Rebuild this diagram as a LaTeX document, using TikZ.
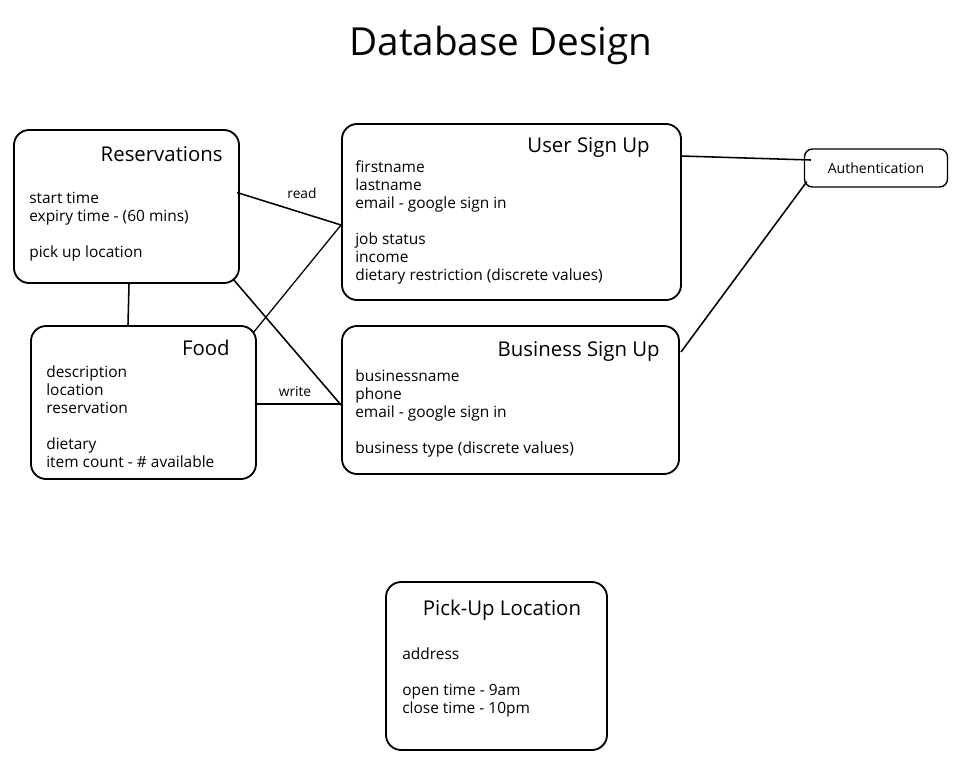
\documentclass[tikz,border=0pt]{standalone}
\usepackage{fontspec}
\setmainfont{Open Sans}
\usetikzlibrary{calc}

\begin{document}
\begin{tikzpicture}[x=0.025cm, y=-0.025cm,
  entity/.style={rectangle, draw=black, line width=1.3pt, rounded corners=0.38cm, inner sep=0pt},
  small/.style={rectangle, draw=black, line width=1pt, rounded corners=0.2cm, inner sep=0pt},
  heading/.style={inner sep=0pt, font=\fontsize{14.5}{16}\selectfont, text height=1.6ex, text depth=0.3ex},
  fields/.style={inner sep=0pt, align=left, anchor=north west, font=\fontsize{11}{12.8}\selectfont},
  tag/.style={inner sep=0pt, font=\fontsize{9.8}{11}\selectfont},
  link/.style={draw=black, line width=1.1pt}
]
\useasboundingbox (0,0) rectangle (980,771);

\node (title) at (501,45) {\fontsize{27.5}{30}\selectfont Database Design};

% entity boxes
\node (res) [entity, minimum width=5.625cm, minimum height=3.825cm] at (126.5,206.5) {};
\node (food) [entity, minimum width=5.625cm, minimum height=3.825cm] at (143.5,402.5) {};
\node (user) [entity, minimum width=8.475cm, minimum height=4.4cm] at (511.5,212) {};
\node (biz) [entity, minimum width=8.425cm, minimum height=3.7cm] at (510.5,400) {};
\node (pick) [entity, minimum width=5.525cm, minimum height=4.2cm] at (496.5,666) {};
\node (auth) [small, minimum width=3.575cm, minimum height=0.95cm, font=\fontsize{10}{12}\selectfont] at (876,168) {Authentication};

% headings
\node (resname) [heading, anchor=east] at (223,157) {Reservations};
\node (foodname) [heading, anchor=east] at (230,351) {Food};
\node (username) [heading, anchor=east] at (650,148) {User Sign Up};
\node (bizname) [heading, anchor=east] at (660,352) {Business Sign Up};
\node (pickname) [heading] at (502,611) {Pick-Up Location};

% fields
\node (resfields) [fields] at (29,192) {start time\\ expiry time - (60 mins)\\[12.8pt] pick up location};
\node (foodfields) [fields] at (46,365) {description\\ location\\ reservation\\[12.8pt] dietary\\ item count - \# available};
\node (userfields) [fields] at (355,160) {firstname\\ lastname\\ email - google sign in\\[12.8pt] job status\\ income\\ dietary restriction (discrete values)};
\node (bizfields) [fields] at (355,369) {businessname\\ phone\\ email - google sign in\\[12.8pt] business type (discrete values)};
\node (pickfields) [fields] at (402,647) {address\\[12.8pt] open time - 9am\\ close time - 10pm};

% connectors
\draw [link] (res.south) ++(2.5,0) -- ($(food.north)+(-15.5,0)$);
\draw [link] ($(res.east)+(-3,-14)$) -- ($(user.west)+(0,13)$);
\draw [link] ($(res.south east)+(-7,-5)$) -- ($(biz.west)+(0,5)$);
\draw [link, line width=0.9pt] ($(food.north east)+(-4,8)$) -- ($(user.west)+(0,13)$);
\draw [link] ($(food.east)+(-2,1.5)$) -- ($(biz.west)+(0,4)$);
\draw [link] ($(user.east)+(-1,-56)$) -- ($(auth.west)+(7,-8)$);
\draw [link] ($(biz.east)+(1,-48)$) -- ($(auth.south west)+(3,-6)$);

\node (read) [tag] at (302,193) {read};
\node (write) [tag] at (295,392) {write};

\end{tikzpicture}
\end{document}
